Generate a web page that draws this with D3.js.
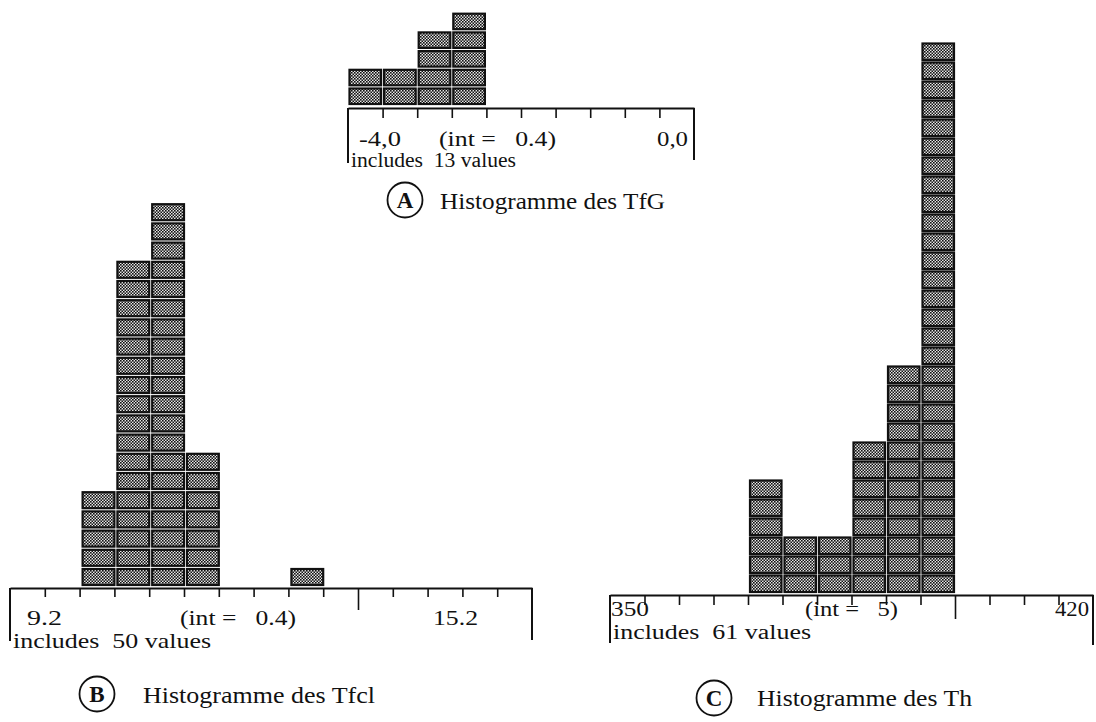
<!DOCTYPE html>
<html><head><meta charset="utf-8">
<script src="https://cdn.jsdelivr.net/npm/d3@7"></script>
<style>
body{margin:0;background:#fff}
text{font-family:"Liberation Serif","Times New Roman",serif;fill:#111;white-space:pre}
</style>
</head><body>
<svg id="chart" width="1096" height="722"></svg>
<script>
// ---------- DATA ----------
// Panel A : Histogramme des TfG
const domainA = [-4.0, 0.0];
const stepA = 0.4;
const countsA = [2, 2, 4, 5, 0, 0, 0, 0, 0, 0];
const labelsA = ["-4,0", "(int =   0.4)", "0,0", "includes  13 values"];
const titleA = ["A", "Histogramme des TfG"];

// Panel B : Histogramme des Tfcl
const domainB = [9.2, 15.2];
const stepB = 0.4;
const countsB = [0, 0, 5, 17, 20, 7, 0, 0, 1, 0, 0, 0, 0, 0, 0];
const markB = [13.2];
const labelsB = ["9.2", "(int =   0.4)", "15.2", "includes  50 values"];
const titleB = ["B", "Histogramme des Tfcl"];

// Panel C : Histogramme des Th
const domainC = [350, 420];
const stepC = 5;
const countsC = [0, 0, 0, 0, 6, 3, 3, 8, 12, 29, 0, 0, 0, 0];
const markC = [400];
const labelsC = ["350", "(int =   5)", "420", "includes  61 values"];
const titleC = ["C", "Histogramme des Th"];

// ---------- DRAW ----------
const svg = d3.select("#chart");
const defs = svg.append("defs");
const pat = defs.append("pattern").attr("id","tex").attr("patternUnits","userSpaceOnUse")
  .attr("width",3).attr("height",3);
pat.append("rect").attr("width",3).attr("height",3).attr("fill","#e6e6e6");
pat.append("rect").attr("x",0).attr("y",0).attr("width",1.6).attr("height",1.6).attr("fill","#111");
pat.append("rect").attr("x",1.5).attr("y",1.5).attr("width",1.5).attr("height",1.5).attr("fill","#111");

function txt(g, x, y, s, fs, w, anchor){
  const t = g.append("text").attr("x", x).attr("y", y).attr("font-size", fs)
    .attr("xml:space","preserve").text(s);
  if (w) t.attr("textLength", w).attr("lengthAdjust", "spacingAndGlyphs");
  if (anchor) t.attr("text-anchor", anchor);
  return t;
}

function panel(o){
  const g = svg.append("g");
  const n = o.counts.length;
  const x = d3.scaleLinear().domain(o.domain).range([o.x0, o.x1]);
  const y = d3.scaleLinear().domain([0, 1]).range([o.axisY - o.gap, o.axisY - o.gap - o.pitch]);
  const starts = d3.range(n).map(i => o.domain[0] + i * o.step);

  // blocks
  const cells = [];
  o.counts.forEach((c, i) => { for (let k = 0; k < c; k++) cells.push({v: starts[i], k}); });
  g.selectAll("rect.blk").data(cells).join("rect").attr("class","blk")
    .attr("x", d => x(d.v) + o.inset)
    .attr("y", d => y(d.k) - o.bh)
    .attr("width", d => x(d.v + o.step) - x(d.v) - o.inset - o.insetR)
    .attr("height", o.bh)
    .attr("fill","url(#tex)").attr("stroke","#111").attr("stroke-width",2.2);

  // axis
  const inner = starts.slice(1);
  const ax = d3.axisBottom(x).tickValues(inner).tickSize(o.tick).tickSizeOuter(0).tickFormat("");
  const ag = g.append("g").attr("transform",`translate(0,${o.axisY})`).call(ax);
  ag.select(".domain").attr("stroke","#111").attr("stroke-width",2.2);
  ag.selectAll(".tick line").attr("stroke","#111").attr("stroke-width",1.6)
    .attr("y2", d => (o.mark && o.mark.some(m => Math.abs(m - d) < 1e-6)) ? o.longTick : o.tick);
  // end verticals
  g.append("line").attr("x1",x(o.domain[0])).attr("x2",x(o.domain[0]))
    .attr("y1",o.axisY).attr("y2",o.axisY + o.leftLen).attr("stroke","#111").attr("stroke-width",2);
  g.append("line").attr("x1",x(o.domain[1])).attr("x2",x(o.domain[1]))
    .attr("y1",o.axisY).attr("y2",o.axisY + o.rightLen).attr("stroke","#111").attr("stroke-width",2);

  // labels
  const fs = o.fs;
  txt(g, o.lx, o.axisY + o.l1, o.labels[0], fs, o.w[0]);
  txt(g, o.ix, o.axisY + o.l1, o.labels[1], fs, o.w[1]);
  txt(g, o.rx, o.axisY + o.l1, o.labels[2], fs, o.w[2], "end");
  txt(g, o.x0 + 3, o.axisY + o.l2, o.labels[3], fs, o.w[3]);

  // title
  g.append("circle").attr("cx",o.cx).attr("cy",o.cy).attr("r",o.cr)
    .attr("fill","none").attr("stroke","#111").attr("stroke-width",1.8);
  g.append("text").attr("x",o.cx).attr("y",o.cy + 8).attr("text-anchor","middle")
    .attr("font-size",23).attr("font-weight","bold").text(o.title[0]);
  txt(g, o.tx, o.tby, o.title[1], o.tfs, o.tw);
}

panel({domain:domainA, step:stepA, counts:countsA, labels:labelsA, title:titleA, mark:null,
  x0:348, x1:694, axisY:108, gap:4, pitch:18.7, bh:15.5, inset:1.5, insetR:1.5,
  tick:10, longTick:10, leftLen:55, rightLen:52,
  fs:20, l1:38, l2:59, lx:359, ix:439, rx:688, w:[42,117,31,165],
  cx:405, cy:200, cr:17.5, tx:440, tby:209, tfs:23, tw:225});

panel({domain:domainB, step:stepB, counts:countsB, labels:labelsB, title:titleB, mark:markB,
  x0:10, x1:532, axisY:588, gap:3, pitch:19.2, bh:16, inset:3, insetR:0,
  tick:9, longTick:22, leftLen:53, rightLen:52,
  fs:21, l1:37, l2:60, lx:27, ix:180, rx:478, w:[35,116,45,198],
  cx:97, cy:694, cr:17.5, tx:143, tby:703, tfs:23, tw:232});

panel({domain:domainC, step:stepC, counts:countsC, labels:labelsC, title:titleC, mark:markC,
  x0:610, x1:1093, axisY:595, gap:3, pitch:19, bh:16.5, inset:2, insetR:1,
  tick:10, longTick:24, leftLen:48, rightLen:50,
  fs:20, l1:21, l2:44, lx:611, ix:805, rx:1089, w:[38,93,34,198],
  cx:714, cy:698, cr:17.5, tx:757, tby:706, tfs:23, tw:215});
</script>
</body></html>
